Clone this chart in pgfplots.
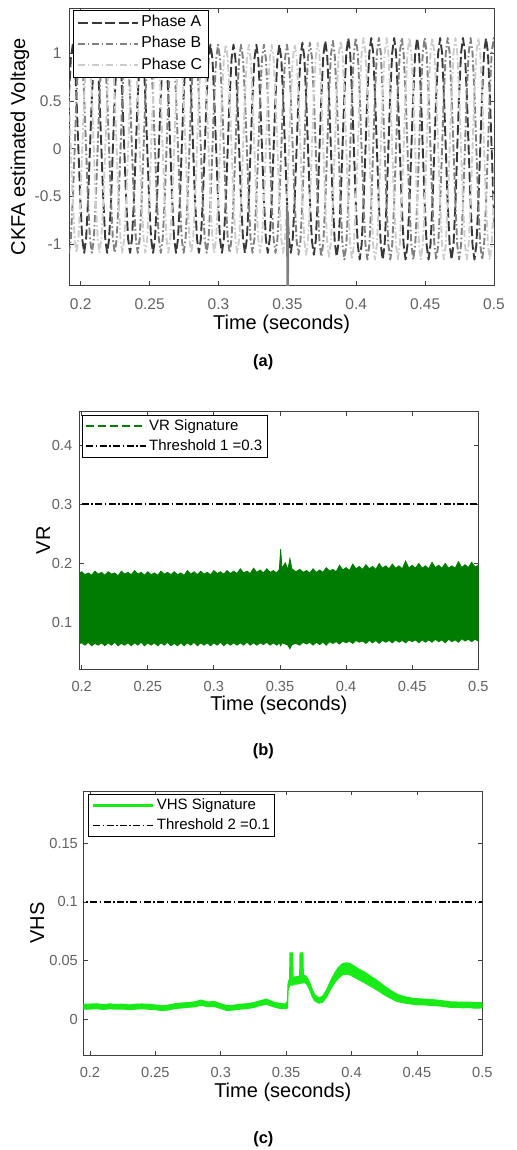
\documentclass[border=0pt]{standalone}
\usepackage{fontspec}
\setmainfont{Liberation Sans}
\usepackage{pgfplots}
\usepackage{pgfplotstable}
\pgfplotsset{compat=1.18}

\definecolor{phA}{gray}{0.22}
\definecolor{phB}{gray}{0.50}
\definecolor{phC}{gray}{0.80}
\definecolor{vrgreen}{RGB}{0,125,0}
\definecolor{vhsgreen}{RGB}{25,235,25}
\definecolor{axgray}{gray}{0.25}
\definecolor{tickgray}{gray}{0.38}

\pgfplotstableread{
t a b c
0.1900 0 -0.944 0.944
0.1914 0.545 -1.09 0.545
0.1928 0.944 -0.944 0
0.1942 1.09 -0.545 -0.545
0.1956 0.944 0 -0.944
0.1969 0.545 0.545 -1.09
0.1983 0 0.944 -0.944
0.1997 -0.545 1.09 -0.545
0.2011 -0.944 0.944 0
0.2025 -1.09 0.545 0.545
0.2039 -0.944 0 0.944
0.2053 -0.545 -0.545 1.09
0.2067 0 -0.944 0.944
0.2081 0.545 -1.09 0.545
0.2095 0.944 -0.944 0
0.2109 1.09 -0.545 -0.545
0.2123 0.944 0 -0.944
0.2136 0.545 0.545 -1.09
0.2150 0 0.944 -0.944
0.2164 -0.545 1.09 -0.545
0.2178 -0.944 0.944 0
0.2192 -1.09 0.545 0.545
0.2206 -0.944 0 0.944
0.2220 -0.545 -0.545 1.09
0.2233 0 -0.944 0.944
0.2247 0.545 -1.09 0.545
0.2261 0.944 -0.944 0
0.2275 1.09 -0.545 -0.545
0.2289 0.944 0 -0.944
0.2302 0.545 0.545 -1.09
0.2316 0 0.944 -0.944
0.2330 -0.545 1.09 -0.545
0.2344 -0.944 0.944 0
0.2358 -1.09 0.545 0.545
0.2372 -0.944 0 0.944
0.2386 -0.545 -0.545 1.09
0.2400 0 -0.944 0.944
0.2414 0.545 -1.09 0.545
0.2428 0.944 -0.944 0
0.2442 1.09 -0.545 -0.545
0.2456 0.944 0 -0.944
0.2469 0.545 0.545 -1.09
0.2483 0 0.944 -0.944
0.2497 -0.545 1.09 -0.545
0.2511 -0.944 0.944 0
0.2525 -1.09 0.545 0.545
0.2539 -0.944 0 0.944
0.2553 -0.545 -0.545 1.09
0.2567 0 -0.944 0.944
0.2581 0.545 -1.09 0.545
0.2595 0.944 -0.944 0
0.2609 1.09 -0.545 -0.545
0.2623 0.944 0 -0.944
0.2636 0.545 0.545 -1.09
0.2650 0 0.944 -0.944
0.2664 -0.545 1.09 -0.545
0.2678 -0.944 0.944 0
0.2692 -1.09 0.545 0.545
0.2706 -0.944 0 0.944
0.2720 -0.545 -0.545 1.09
0.2733 0 -0.944 0.944
0.2747 0.545 -1.09 0.545
0.2761 0.944 -0.944 0
0.2775 1.09 -0.545 -0.545
0.2789 0.944 0 -0.944
0.2802 0.545 0.545 -1.09
0.2816 0 0.944 -0.944
0.2830 -0.545 1.09 -0.545
0.2844 -0.944 0.944 0
0.2858 -1.09 0.545 0.545
0.2872 -0.944 0 0.944
0.2886 -0.545 -0.545 1.09
0.2900 0 -0.944 0.944
0.2914 0.545 -1.09 0.545
0.2928 0.944 -0.944 0
0.2942 1.09 -0.545 -0.545
0.2956 0.944 0 -0.944
0.2969 0.545 0.545 -1.09
0.2983 0 0.944 -0.944
0.2997 -0.545 1.09 -0.545
0.3011 -0.944 0.944 0
0.3025 -1.09 0.545 0.545
0.3039 -0.944 0 0.944
0.3053 -0.545 -0.545 1.09
0.3067 0 -0.944 0.944
0.3081 0.545 -1.09 0.545
0.3095 0.944 -0.944 0
0.3109 1.09 -0.545 -0.545
0.3123 0.944 0 -0.944
0.3136 0.545 0.545 -1.09
0.3150 0 0.944 -0.944
0.3164 -0.545 1.09 -0.545
0.3178 -0.944 0.944 0
0.3192 -1.09 0.545 0.545
0.3206 -0.944 0 0.944
0.3220 -0.545 -0.545 1.09
0.3233 0 -0.944 0.944
0.3247 0.545 -1.09 0.545
0.3261 0.944 -0.944 0
0.3275 1.09 -0.545 -0.545
0.3289 0.944 0 -0.944
0.3302 0.545 0.545 -1.09
0.3316 0 0.944 -0.944
0.3330 -0.545 1.09 -0.545
0.3344 -0.944 0.944 0
0.3358 -1.09 0.545 0.545
0.3372 -0.944 0 0.944
0.3386 -0.545 -0.545 1.09
0.3400 0 -0.944 0.944
0.3414 0.545 -1.09 0.545
0.3428 0.944 -0.944 0
0.3442 1.09 -0.545 -0.545
0.3456 0.944 0 -0.944
0.3469 0.545 0.545 -1.09
0.3483 0 0.944 -0.944
0.3497 -0.545 1.09 -0.545
0.3511 -0.944 0.944 0
0.3525 -1.09 0.545 0.545
0.3539 -0.944 0 0.944
0.3553 -0.545 -0.545 1.09
0.3567 0 -0.961 0.961
0.3581 0.555 -1.11 0.555
0.3595 0.961 -0.961 0
0.3609 1.11 -0.555 -0.555
0.3623 0.961 0 -0.961
0.3636 0.555 0.555 -1.11
0.3650 0 0.961 -0.961
0.3664 -0.555 1.11 -0.555
0.3678 -0.961 0.961 0
0.3692 -1.11 0.555 0.555
0.3706 -0.961 0 0.961
0.3720 -0.555 -0.555 1.11
0.3733 0 -0.979 0.979
0.3747 0.565 -1.13 0.565
0.3761 0.979 -0.979 0
0.3775 1.13 -0.565 -0.565
0.3789 0.979 0 -0.979
0.3802 0.565 0.565 -1.13
0.3816 0 0.979 -0.979
0.3830 -0.565 1.13 -0.565
0.3844 -0.979 0.979 0
0.3858 -1.13 0.565 0.565
0.3872 -0.979 0 0.979
0.3886 -0.565 -0.565 1.13
0.3900 0 -1.005 1.005
0.3914 0.58 -1.16 0.58
0.3928 1.005 -1.005 0
0.3942 1.16 -0.58 -0.58
0.3956 1.005 0 -1.005
0.3969 0.58 0.58 -1.16
0.3983 0 1.005 -1.005
0.3997 -0.58 1.16 -0.58
0.4011 -1.005 1.005 0
0.4025 -1.16 0.58 0.58
0.4039 -1.005 0 1.005
0.4053 -0.58 -0.58 1.16
0.4067 0 -1.005 1.005
0.4081 0.58 -1.16 0.58
0.4095 1.005 -1.005 0
0.4109 1.16 -0.58 -0.58
0.4123 1.005 0 -1.005
0.4136 0.58 0.58 -1.16
0.4150 0 1.005 -1.005
0.4164 -0.58 1.16 -0.58
0.4178 -1.005 1.005 0
0.4192 -1.16 0.58 0.58
0.4206 -1.005 0 1.005
0.4220 -0.58 -0.58 1.16
0.4233 0 -1.005 1.005
0.4247 0.58 -1.16 0.58
0.4261 1.005 -1.005 0
0.4275 1.16 -0.58 -0.58
0.4289 1.005 0 -1.005
0.4302 0.58 0.58 -1.16
0.4316 0 1.005 -1.005
0.4330 -0.58 1.16 -0.58
0.4344 -1.005 1.005 0
0.4358 -1.16 0.58 0.58
0.4372 -1.005 0 1.005
0.4386 -0.58 -0.58 1.16
0.4400 0 -1.005 1.005
0.4414 0.58 -1.16 0.58
0.4428 1.005 -1.005 0
0.4442 1.16 -0.58 -0.58
0.4456 1.005 0 -1.005
0.4469 0.58 0.58 -1.16
0.4483 0 1.005 -1.005
0.4497 -0.58 1.16 -0.58
0.4511 -1.005 1.005 0
0.4525 -1.16 0.58 0.58
0.4539 -1.005 0 1.005
0.4553 -0.58 -0.58 1.16
0.4567 0 -1.005 1.005
0.4581 0.58 -1.16 0.58
0.4595 1.005 -1.005 0
0.4609 1.16 -0.58 -0.58
0.4623 1.005 0 -1.005
0.4636 0.58 0.58 -1.16
0.4650 0 1.005 -1.005
0.4664 -0.58 1.16 -0.58
0.4678 -1.005 1.005 0
0.4692 -1.16 0.58 0.58
0.4706 -1.005 0 1.005
0.4720 -0.58 -0.58 1.16
0.4733 0 -1.005 1.005
0.4747 0.58 -1.16 0.58
0.4761 1.005 -1.005 0
0.4775 1.16 -0.58 -0.58
0.4789 1.005 0 -1.005
0.4802 0.58 0.58 -1.16
0.4816 0 1.005 -1.005
0.4830 -0.58 1.16 -0.58
0.4844 -1.005 1.005 0
0.4858 -1.16 0.58 0.58
0.4872 -1.005 0 1.005
0.4886 -0.58 -0.58 1.16
0.4900 0 -1.005 1.005
0.4914 0.58 -1.16 0.58
0.4928 1.005 -1.005 0
0.4942 1.16 -0.58 -0.58
0.4956 1.005 0 -1.005
0.4969 0.58 0.58 -1.16
0.4983 0 1.005 -1.005
0.4997 -0.58 1.16 -0.58
0.5011 -1.005 1.005 0
0.5025 -1.16 0.58 0.58
}\phasedata

% VR band: upper envelope left to right, then lower envelope right to left
\pgfplotstableread{
t v
0.1960 0.180
0.2000 0.186
0.2025 0.181
0.2050 0.184
0.2075 0.180
0.2100 0.187
0.2125 0.182
0.2150 0.185
0.2175 0.180
0.2200 0.186
0.2225 0.182
0.2250 0.184
0.2275 0.179
0.2300 0.187
0.2325 0.182
0.2350 0.185
0.2375 0.181
0.2400 0.188
0.2425 0.182
0.2450 0.185
0.2475 0.180
0.2500 0.186
0.2525 0.181
0.2550 0.184
0.2575 0.180
0.2600 0.187
0.2625 0.182
0.2650 0.185
0.2675 0.181
0.2700 0.186
0.2725 0.181
0.2750 0.184
0.2775 0.180
0.2800 0.188
0.2825 0.182
0.2850 0.186
0.2875 0.181
0.2900 0.187
0.2925 0.182
0.2950 0.185
0.2975 0.181
0.3000 0.188
0.3025 0.183
0.3050 0.186
0.3075 0.182
0.3100 0.188
0.3125 0.183
0.3150 0.187
0.3175 0.183
0.3200 0.191
0.3225 0.184
0.3250 0.187
0.3275 0.183
0.3300 0.192
0.3325 0.185
0.3350 0.189
0.3375 0.184
0.3400 0.191
0.3425 0.185
0.3450 0.188
0.3475 0.184
0.3495 0.190
0.3505 0.224
0.3515 0.192
0.3540 0.201
0.3560 0.190
0.3575 0.208
0.3590 0.191
0.3620 0.186
0.3650 0.190
0.3675 0.185
0.3700 0.188
0.3725 0.184
0.3750 0.191
0.3775 0.185
0.3800 0.189
0.3825 0.185
0.3850 0.193
0.3875 0.187
0.3900 0.190
0.3925 0.186
0.3950 0.197
0.3975 0.189
0.4000 0.193
0.4025 0.188
0.4050 0.199
0.4075 0.191
0.4100 0.195
0.4125 0.190
0.4150 0.198
0.4175 0.191
0.4200 0.195
0.4225 0.190
0.4250 0.200
0.4275 0.192
0.4300 0.196
0.4325 0.191
0.4350 0.199
0.4375 0.192
0.4400 0.196
0.4425 0.191
0.4450 0.204
0.4475 0.192
0.4500 0.197
0.4525 0.192
0.4550 0.200
0.4575 0.192
0.4600 0.196
0.4625 0.191
0.4650 0.202
0.4675 0.193
0.4700 0.197
0.4725 0.192
0.4750 0.200
0.4775 0.192
0.4800 0.196
0.4825 0.192
0.4850 0.203
0.4875 0.193
0.4900 0.198
0.4925 0.193
0.4950 0.202
0.4975 0.194
0.5000 0.197
0.5000 0.069
0.4975 0.072
0.4950 0.068
0.4925 0.072
0.4900 0.069
0.4875 0.073
0.4850 0.067
0.4825 0.071
0.4800 0.068
0.4775 0.072
0.4750 0.066
0.4725 0.071
0.4700 0.068
0.4675 0.072
0.4650 0.067
0.4625 0.071
0.4600 0.067
0.4575 0.071
0.4550 0.066
0.4525 0.071
0.4500 0.068
0.4475 0.071
0.4450 0.066
0.4425 0.070
0.4400 0.067
0.4375 0.071
0.4350 0.066
0.4325 0.070
0.4300 0.067
0.4275 0.070
0.4250 0.065
0.4225 0.070
0.4200 0.066
0.4175 0.070
0.4150 0.065
0.4125 0.069
0.4100 0.067
0.4075 0.070
0.4050 0.065
0.4025 0.069
0.4000 0.066
0.3975 0.069
0.3950 0.064
0.3925 0.068
0.3900 0.065
0.3875 0.068
0.3850 0.062
0.3825 0.067
0.3800 0.063
0.3775 0.067
0.3750 0.062
0.3725 0.067
0.3700 0.064
0.3675 0.067
0.3650 0.062
0.3620 0.065
0.3590 0.063
0.3575 0.056
0.3560 0.062
0.3540 0.064
0.3515 0.066
0.3505 0.061
0.3495 0.066
0.3475 0.062
0.3450 0.066
0.3425 0.062
0.3400 0.067
0.3375 0.063
0.3350 0.066
0.3325 0.062
0.3300 0.066
0.3275 0.062
0.3250 0.067
0.3225 0.062
0.3200 0.066
0.3175 0.062
0.3150 0.066
0.3125 0.062
0.3100 0.066
0.3075 0.061
0.3050 0.067
0.3025 0.062
0.3000 0.066
0.2975 0.061
0.2950 0.066
0.2925 0.062
0.2900 0.066
0.2875 0.061
0.2850 0.067
0.2825 0.062
0.2800 0.066
0.2775 0.061
0.2750 0.066
0.2725 0.061
0.2700 0.065
0.2675 0.061
0.2650 0.067
0.2625 0.062
0.2600 0.066
0.2575 0.061
0.2550 0.066
0.2525 0.062
0.2500 0.066
0.2475 0.061
0.2450 0.067
0.2425 0.062
0.2400 0.066
0.2375 0.061
0.2350 0.066
0.2325 0.062
0.2300 0.065
0.2275 0.061
0.2250 0.067
0.2225 0.062
0.2200 0.066
0.2175 0.061
0.2150 0.066
0.2125 0.062
0.2100 0.065
0.2075 0.061
0.2050 0.067
0.2025 0.062
0.2000 0.066
0.1960 0.063
}\vrdata

% VHS band: upper envelope left to right, then lower envelope right to left
\pgfplotstableread{
t v
0.1940 0.0125
0.2000 0.0127
0.2050 0.0130
0.2100 0.0122
0.2150 0.0129
0.2200 0.0124
0.2250 0.0127
0.2300 0.0120
0.2350 0.0126
0.2400 0.0128
0.2450 0.0125
0.2500 0.0120
0.2550 0.0112
0.2600 0.0119
0.2650 0.0130
0.2700 0.0136
0.2750 0.0140
0.2800 0.0146
0.2850 0.0162
0.2900 0.0145
0.2950 0.0149
0.3000 0.0130
0.3050 0.0113
0.3100 0.0118
0.3150 0.0126
0.3200 0.0130
0.3250 0.0139
0.3300 0.0155
0.3350 0.0170
0.3400 0.0145
0.3450 0.0133
0.3495 0.0128
0.3510 0.0150
0.3515 0.0300
0.3522 0.0330
0.3527 0.0345
0.3530 0.0565
0.3550 0.0565
0.3553 0.0355
0.3570 0.0360
0.3590 0.0365
0.3604 0.0365
0.3607 0.0565
0.3628 0.0565
0.3631 0.0368
0.3645 0.0370
0.3660 0.0355
0.3680 0.0310
0.3700 0.0250
0.3720 0.0205
0.3750 0.0180
0.3780 0.0195
0.3810 0.0250
0.3840 0.0325
0.3870 0.0390
0.3900 0.0440
0.3930 0.0472
0.3960 0.0480
0.3990 0.0472
0.4020 0.0452
0.4050 0.0430
0.4100 0.0400
0.4150 0.0362
0.4200 0.0325
0.4250 0.0282
0.4300 0.0243
0.4350 0.0210
0.4400 0.0192
0.4450 0.0180
0.4500 0.0173
0.4550 0.0170
0.4600 0.0166
0.4650 0.0162
0.4700 0.0155
0.4750 0.0147
0.4800 0.0145
0.4850 0.0143
0.4900 0.0144
0.4950 0.0139
0.5000 0.0140
0.5000 0.0096
0.4950 0.0093
0.4900 0.0098
0.4850 0.0097
0.4800 0.0099
0.4750 0.0101
0.4700 0.0109
0.4650 0.0114
0.4600 0.0118
0.4550 0.0122
0.4500 0.0123
0.4450 0.0130
0.4400 0.0138
0.4350 0.0150
0.4300 0.0177
0.4250 0.0208
0.4200 0.0245
0.4150 0.0278
0.4100 0.0310
0.4050 0.0340
0.4020 0.0358
0.3990 0.0378
0.3960 0.0384
0.3930 0.0378
0.3900 0.0350
0.3870 0.0310
0.3840 0.0255
0.3810 0.0190
0.3780 0.0145
0.3750 0.0136
0.3720 0.0155
0.3700 0.0190
0.3680 0.0250
0.3660 0.0295
0.3645 0.0310
0.3631 0.0310
0.3628 0.0310
0.3607 0.0305
0.3604 0.0305
0.3590 0.0300
0.3570 0.0300
0.3553 0.0295
0.3550 0.0290
0.3530 0.0290
0.3527 0.0285
0.3522 0.0270
0.3515 0.0250
0.3510 0.0095
0.3495 0.0089
0.3450 0.0092
0.3400 0.0106
0.3350 0.0127
0.3300 0.0116
0.3250 0.0098
0.3200 0.0091
0.3150 0.0085
0.3100 0.0079
0.3050 0.0072
0.3000 0.0091
0.2950 0.0108
0.2900 0.0106
0.2850 0.0119
0.2800 0.0105
0.2750 0.0101
0.2700 0.0095
0.2650 0.0091
0.2600 0.0078
0.2550 0.0073
0.2500 0.0081
0.2450 0.0084
0.2400 0.0089
0.2350 0.0085
0.2300 0.0081
0.2250 0.0086
0.2200 0.0085
0.2150 0.0088
0.2100 0.0083
0.2050 0.0089
0.2000 0.0086
0.1940 0.0085
}\vhsdata

\pgfplotsset{
  common/.style={
    scale only axis,
    axis line style={axgray, line width=0.5pt},
    every tick/.style={axgray, line width=0.4pt},
    major tick length=2.2pt,
    tick align=inside,
    scaled ticks=false,
    /pgf/number format/assume math mode=true,
    ticklabel style={text=tickgray},
    xtick={0.2,0.25,0.3,0.35,0.4,0.45,0.5},
    xticklabels={0.2,0.25,0.3,0.35,0.4,0.45,0.5},
    xmax=0.5,
    xlabel={Time (seconds)},
    label style={text=black!88},
    legend cell align=left,
    legend image code/.code={\draw[##1] (0pt,0pt) -- (30pt,0pt);},
  },
}

\begin{document}
\begin{tikzpicture}
\useasboundingbox (0pt,0pt) rectangle (258pt,-575pt);

% ---------------- (a) ----------------
\begin{axis}[common,
  at={(34.65pt,-142.85pt)}, anchor=south west,
  width=212.35pt, height=138.7pt,
  xmin=0.1917, ymin=-1.434, ymax=1.471,
  ytick={-1,-0.5,0,0.5,1}, yticklabels={-1,-0.5,0,0.5,1},
  ticklabel style={font=\fontsize{7.75}{9}\selectfont},
  xticklabel style={yshift=-2.9pt},
  yticklabel style={xshift=-0.4pt},
  ylabel={CKFA estimated Voltage},
  label style={font=\fontsize{10.2}{12}\selectfont},
  every axis x label/.style={at={(axis description cs:0.5,-0.1403)}, anchor=center},
  every axis y label/.style={at={(axis description cs:-0.1161,0.5)}, rotate=90, anchor=center},
  legend style={at={(0.009,0.9939)}, anchor=north west, draw=black,
    font=\fontsize{7.9}{9}\selectfont, inner xsep=1.8pt, inner ysep=0.8pt,
    nodes={inner sep=1.2pt, text height=6.2pt, text depth=2pt}},
]
\addplot[phA, line width=0.95pt, line join=round, dash pattern=on 5pt off 1.8pt] table[x=t,y=a]{\phasedata};
\addlegendentry{Phase A}
\addplot[phB, line width=0.95pt, line join=round, dash pattern=on 3.6pt off 1.3pt on 0.8pt off 1.3pt] table[x=t,y=b]{\phasedata};
\addlegendentry{Phase B}
\addplot[phC, line width=0.95pt, line join=round, dash pattern=on 3.6pt off 1.3pt on 0.8pt off 1.3pt] table[x=t,y=c]{\phasedata};
\addlegendentry{Phase C}
\addplot[phB, line width=1pt, forget plot] coordinates {(0.3498,-0.60) (0.3500,-1.55) (0.3502,-0.85) (0.3504,-1.55) (0.3506,-0.70)};
\end{axis}
\node[font=\fontsize{8.2}{10}\selectfont\bfseries] at (131.6pt,-181.25pt) {(a)};

% ---------------- (b) ----------------
\begin{axis}[common,
  at={(39.65pt,-334.5pt)}, anchor=south west,
  width=199.5pt, height=128.65pt,
  xmin=0.1982, ymin=0.0218, ymax=0.4562,
  ytick={0.1,0.2,0.3,0.4}, yticklabels={0.1,0.2,0.3,0.4},
  ticklabel style={font=\fontsize{7.3}{9}\selectfont},
  xticklabel style={yshift=-2.5pt},
  ylabel={VR},
  label style={font=\fontsize{9.4}{11}\selectfont},
  every axis x label/.style={at={(axis description cs:0.5,-0.140)}, anchor=center},
  every axis y label/.style={at={(axis description cs:-0.0902,0.5)}, rotate=90, anchor=center},
  legend style={at={(0.0068,0.9872)}, anchor=north west, draw=black,
    font=\fontsize{7.5}{9}\selectfont, inner xsep=1.5pt, inner ysep=0.6pt,
    nodes={inner sep=1pt, text height=6pt, text depth=1.8pt}},
]
\addplot[vrgreen, line width=0.9pt, dash pattern=on 4pt off 2pt] coordinates {(0.10,0.1) (0.11,0.1)};
\addlegendentry{VR Signature}
\addplot[draw=vrgreen, fill=vrgreen, line width=0.4pt, forget plot] table[x=t,y=v]{\vrdata} -- cycle;
\addplot[black, line width=0.8pt, dash pattern=on 3.5pt off 1.2pt on 0.8pt off 1.2pt] coordinates {(0.19,0.3) (0.5,0.3)};
\addlegendentry{Threshold 1 =0.3}
\end{axis}
\node[font=\fontsize{8.2}{10}\selectfont\bfseries] at (131.7pt,-375.8pt) {(b)};

% ---------------- (c) ----------------
\begin{axis}[common,
  at={(41.65pt,-527.5pt)}, anchor=south west,
  width=199.5pt, height=132pt,
  xmin=0.1949, ymin=-0.0307, ymax=0.1947,
  ytick={0,0.05,0.1,0.15}, yticklabels={0,0.05,0.1,0.15},
  ticklabel style={font=\fontsize{7.3}{9}\selectfont},
  xticklabel style={yshift=-2.5pt},
  yticklabel style={xshift=0.8pt},
  ylabel={VHS},
  label style={font=\fontsize{9.6}{11}\selectfont},
  every axis x label/.style={at={(axis description cs:0.5,-0.140)}, anchor=center},
  every axis y label/.style={at={(axis description cs:-0.1153,0.5)}, rotate=90, anchor=center},
  legend style={at={(0.0125,0.9875)}, anchor=north west, draw=black,
    font=\fontsize{7.5}{9}\selectfont, inner xsep=1.5pt, inner ysep=0.6pt,
    nodes={inner sep=1pt, text height=6pt, text depth=1.8pt}},
]
\addplot[draw=vhsgreen, fill=vhsgreen, line width=0.6pt, line join=round, forget plot] table[x=t,y=v]{\vhsdata} -- cycle;
\addlegendimage{vhsgreen, line width=1.6pt}
\addlegendentry{VHS Signature}
\addplot[black, line width=0.8pt, dash pattern=on 3.5pt off 1.2pt on 0.8pt off 1.2pt] coordinates {(0.19,0.1) (0.5,0.1)};
\addlegendentry{Threshold 2 =0.1}
\end{axis}
\node[font=\fontsize{8.2}{10}\selectfont\bfseries] at (131.7pt,-569.5pt) {(c)};
\end{tikzpicture}
\end{document}
